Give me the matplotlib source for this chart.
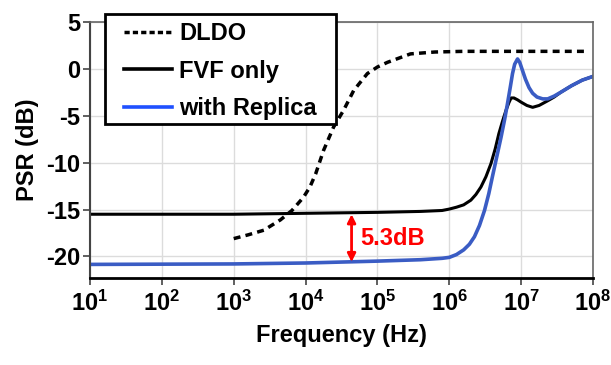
import numpy as np
import matplotlib
matplotlib.use("Agg")
import matplotlib.pyplot as plt
from matplotlib.lines import Line2D
from matplotlib.patches import Rectangle

# log10(frequency) / PSR (dB)
dldo_logf = [3.0, 3.2, 3.42, 3.65, 3.81, 3.97, 4.06, 4.14, 4.25, 4.39, 4.53, 4.67, 4.86, 5.0, 5.14, 5.46, 5.8, 6.2, 7.0, 7.9]
dldo_psr = [-18.1, -17.7, -17.2, -16.1, -15.1, -13.7, -12.6, -11.2, -8.7, -6.2, -4.4, -2.3, -0.5, 0.2, 0.7, 1.6, 1.8, 1.87, 1.87, 1.87]

fvf_logf = [1, 3, 4, 5, 5.6, 5.9, 6.0, 6.1, 6.2, 6.3, 6.37, 6.44, 6.51, 6.58, 6.64, 6.69, 6.74, 6.79, 6.83, 6.86,
            6.9, 6.95, 7.0, 7.08, 7.16, 7.25, 7.37, 7.46, 7.55, 7.7, 7.85, 8.0]
fvf_psr = [-15.5, -15.5, -15.4, -15.3, -15.2, -15.1, -14.95, -14.75, -14.5, -14.0, -13.4, -12.6, -11.5, -10.1, -8.5,
           -6.9, -5.6, -4.4, -3.6, -3.1, -3.1, -3.3, -3.55, -3.9, -4.1, -3.9, -3.4, -3.0, -2.5, -1.8, -1.2, -0.8]

rep_logf = [1, 3, 4, 5, 5.6, 5.9, 6.0, 6.1, 6.2, 6.28, 6.35, 6.42, 6.49, 6.55, 6.6, 6.66, 6.72, 6.77, 6.81, 6.85,
            6.88, 6.91, 6.95, 6.98, 7.02, 7.06, 7.11, 7.16, 7.22, 7.3, 7.37, 7.46, 7.55, 7.7, 7.85, 8.0]
rep_psr = [-20.85, -20.8, -20.7, -20.5, -20.35, -20.2, -20.1, -19.8, -19.3, -18.7, -17.9, -16.7, -15.1, -13.3, -11.5,
           -9.4, -7.3, -5.4, -3.7, -1.9, -0.5, 0.5, 1.06, 0.7, -0.2, -1.1, -2.0, -2.6, -3.0, -3.2, -3.2, -2.9,
           -2.5, -1.8, -1.2, -0.8]

labels = ["DLDO", "FVF only", "with Replica"]
xticks_exp = [1, 2, 3, 4, 5, 6, 7, 8]
yticks = [-20, -15, -10, -5, 0, 5]
arrow_logf = 4.64
arrow_top, arrow_bot = -15.5, -20.6
note = "5.3dB"

plt.rcParams["font.family"] = ["Liberation Sans", "DejaVu Sans"]
plt.rcParams["font.weight"] = "bold"
plt.rcParams["mathtext.default"] = "regular"

BLUE = "#3a5cc4"
W, H = 611, 365

fig = plt.figure(figsize=(W / 100, H / 100), dpi=100)
ax = fig.add_axes([90 / W, 1 - 278 / H, 503 / W, 256 / H])

f = lambda lf: np.power(10.0, lf)
ax.plot(f(np.array(dldo_logf)), dldo_psr, color="black", lw=2.5, dashes=(2.0, 1.5))
ax.plot(f(np.array(fvf_logf)), fvf_psr, color="black", lw=2.2)
ax.plot(f(np.array(rep_logf)), rep_psr, color=BLUE, lw=2.6)

ax.set_xscale("log")
ax.set_xlim(10, 1e8)
ax.set_ylim(-22.3, 5)
ax.set_xticks([10.0 ** e for e in xticks_exp])
ax.set_xticklabels([r"$\mathregular{10^{%d}}$" % e for e in xticks_exp], fontsize=17)
ax.minorticks_off()
ax.set_yticks(yticks)
ax.set_yticklabels([str(v) for v in yticks], fontsize=17)
ax.grid(True, color="#dcdcdc", lw=1.0)
ax.tick_params(axis="both", length=5, width=1.2, color="#444444", pad=2)
ax.tick_params(axis="x", pad=4)
for s in ["top", "right"]:
    ax.spines[s].set_color("#666666")
    ax.spines[s].set_linewidth(1.2)
ax.spines["left"].set_color("#444444")
ax.spines["left"].set_linewidth(1.5)
ax.spines["bottom"].set_color("black")
ax.spines["bottom"].set_linewidth(2)

ax.set_xlabel("Frequency (Hz)", fontsize=17, fontweight="bold", labelpad=6)
ax.set_ylabel("PSR (dB)", fontsize=17, fontweight="bold", labelpad=5)

# red double arrow with the gap label
ax.annotate("", xy=(f(arrow_logf), arrow_bot), xytext=(f(arrow_logf), arrow_top),
            arrowprops=dict(arrowstyle="<|-|>", color="#ff0000", lw=2, mutation_scale=12, shrinkA=0, shrinkB=0))
ax.text(f(arrow_logf + 0.12), (arrow_top + arrow_bot) / 2, note, color="#ff0000",
        fontsize=17, va="center", ha="left")

# legend box (drawn separately: padding is wider than tall in the original)
fig.add_artist(Rectangle((105 / W, 1 - 124 / H), 231 / W, 110 / H, transform=fig.transFigure,
                         facecolor="white", edgecolor="black", lw=2, zorder=4))
handles = [Line2D([], [], color="black", lw=2.5, dashes=(1.5, 0.9)),
           Line2D([], [], color="black", lw=2.6),
           Line2D([], [], color="#1f50ff", lw=2.6)]
leg = fig.legend(handles, labels, loc="upper left", bbox_to_anchor=(124 / W, 1 - 22 / H),
                 fontsize=17, handlelength=2.05, handletextpad=0.3, labelspacing=0.62,
                 borderpad=0, frameon=False, borderaxespad=0)
leg.set_zorder(5)

fig.savefig("out.png", dpi=100)
